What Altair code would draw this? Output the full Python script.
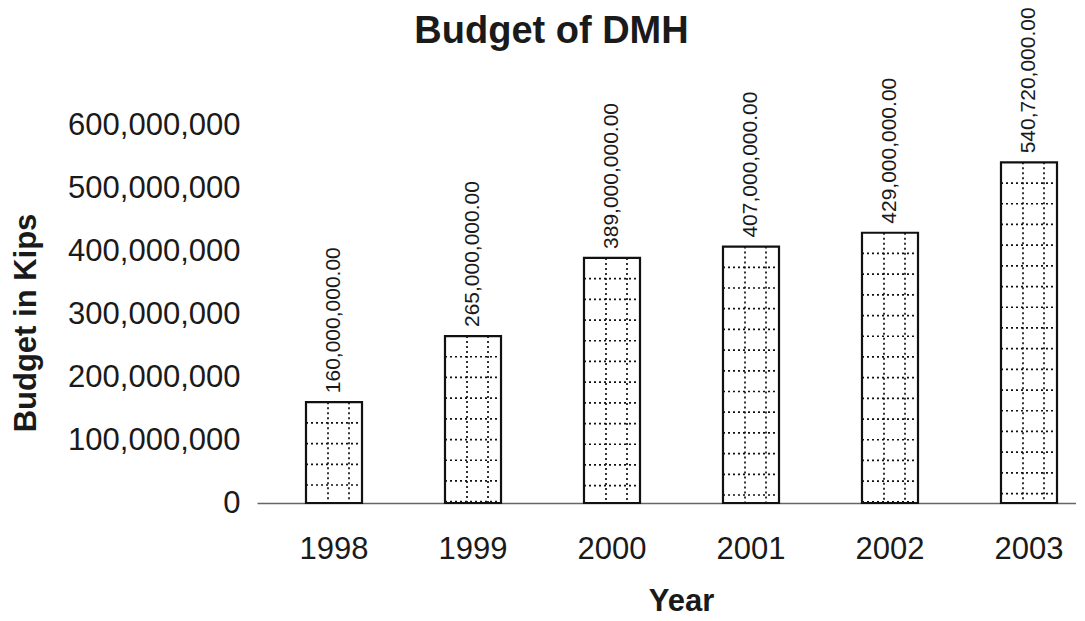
import altair as alt
import pandas as pd

years = ["1998", "1999", "2000", "2001", "2002", "2003"]
budget = [160000000, 265000000, 389000000, 407000000, 429000000, 540720000]
y_ticks = [0, 100000000, 200000000, 300000000, 400000000, 500000000, 600000000]

FONT = "Liberation Sans"
PATTERN_STEP = 32860000  # decorative dotted-grid spacing (data units)

df = pd.DataFrame({"Year": years, "Budget": budget})

# horizontal dotted pattern lines, hung from each bar's top
rows = []
for yr, v in zip(years, budget):
    k = 1
    while v - k * PATTERN_STEP > 0:
        rows.append({"Year": yr, "Level": v - k * PATTERN_STEP})
        k += 1
df_h = pd.DataFrame(rows)

xscale = alt.Scale(domain=years, range=[0, 849], paddingInner=0.597, paddingOuter=0.3525)
yscale = alt.Scale(domain=[0, 600000000], nice=False)

x_enc = alt.X(
    "Year:N", scale=xscale,
    axis=alt.Axis(
        title="Year", labelAngle=0, labelFontSize=31, labelFont=FONT, labelColor="#1a1a1a",
        labelPadding=31, ticks=False, domainColor="#666666", domainWidth=1.5,
        titleFont=FONT, titleFontSize=31, titleFontWeight="bold", titleColor="#1a1a1a",
        titleX=424, titleY=107, titleBaseline="alphabetic", titleAlign="center",
        grid=False,
    ),
)
y_enc = alt.Y(
    "Budget:Q", scale=yscale,
    axis=alt.Axis(
        title="Budget in Kips", values=y_ticks, format=",d", labelFontSize=31, labelFont=FONT,
        labelColor="#1a1a1a", labelPadding=17, ticks=False, domain=False, grid=False,
        titleFont=FONT, titleFontSize=31, titleFontWeight="bold", titleColor="#1a1a1a",
        titleX=-222, titleY=197.5, titleAngle=270, titleBaseline="alphabetic", titleAlign="center",
    ),
)

base = alt.Chart(df)

bars_fill = base.mark_bar(fill="white", stroke=None).encode(x=x_enc, y=y_enc)

vlines = []
for off in (-6, 15):
    vlines.append(
        base.mark_rule(color="#111111", strokeWidth=1.7, strokeDash=[2, 3], xOffset=off).encode(
            x=alt.X("Year:N", scale=xscale),
            y=alt.Y("Budget:Q", scale=yscale),
            y2=alt.datum(0),
        )
    )

hlines = alt.Chart(df_h).mark_rule(
    color="#111111", strokeWidth=1.7, strokeDash=[2, 3], xOffset=-28, x2Offset=28
).encode(
    x=alt.X("Year:N", scale=xscale),
    x2=alt.X2("Year"),
    y=alt.Y("Level:Q", scale=yscale),
)

bars_outline = base.mark_bar(fillOpacity=0, stroke="#111111", strokeWidth=2.2).encode(
    x=alt.X("Year:N", scale=xscale), y=alt.Y("Budget:Q", scale=yscale)
)

labels = base.mark_text(
    angle=270, align="left", baseline="middle", dx=9, fontSize=21, font=FONT, color="#1a1a1a"
).encode(
    x=alt.X("Year:N", scale=xscale),
    y=alt.Y("Budget:Q", scale=yscale),
    text=alt.Text("Budget:Q", format=",.2f"),
)

chart = alt.layer(bars_fill, *vlines, hlines, bars_outline, labels).properties(
    width=819,
    height=378,
    background="white",
    title=alt.TitleParams(
        text="Budget of DMH", fontSize=38, fontWeight="bold", font=FONT, color="#1a1a1a",
        anchor="middle", frame="group", dx=-115, offset=-74, baseline="alphabetic",
    ),
    autosize=alt.AutoSizeParams(type="none"),
    padding={"left": 249, "top": 117, "right": 0, "bottom": 113},
).configure_view(stroke=None)

chart.save("out.html", embed_options={"renderer": "svg", "actions": False})
